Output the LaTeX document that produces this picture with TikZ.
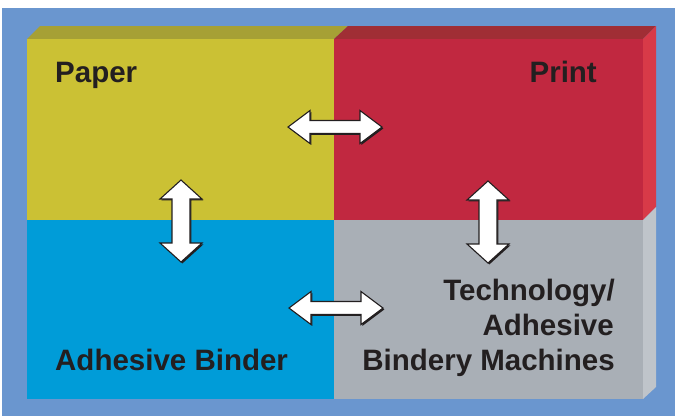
\documentclass[tikz,border=0pt]{standalone}
\usepackage{fontspec}
\setmainfont{Liberation Sans}
\definecolor{bgblue}{HTML}{6A96CF}
\definecolor{yelF}{HTML}{CBC134}
\definecolor{yelT}{HTML}{A6A035}
\definecolor{redF}{HTML}{C12840}
\definecolor{redT}{HTML}{A02E35}
\definecolor{redS}{HTML}{D83A48}
\definecolor{cyanF}{HTML}{009CD8}
\definecolor{grayF}{HTML}{A9AFB6}
\definecolor{grayS}{HTML}{BFC4CA}
\definecolor{txt}{HTML}{231F20}
\tikzset{
  lbl/.style={font=\bfseries\fontsize{29.5}{35}\selectfont, text=txt, inner sep=0pt},
  panel/.style={inner sep=0pt, outer sep=0pt, anchor=north west},
  arrowbody/.style={fill=white, draw=txt, line width=1.1pt, line join=miter},
  arrowshadow/.style={fill=txt},
  harrow/.pic={
    \fill[arrowshadow, shift={(1.4,1.4)}] (-47,0) -- (-25,-16.5) -- (-25,-6.5) -- (25,-6.5) -- (25,-16.5) -- (47,0) -- (25,16.5) -- (25,6.5) -- (-25,6.5) -- (-25,16.5) -- cycle;
    \path[arrowbody] (-47,0) -- (-25,-16.5) -- (-25,-6.5) -- (25,-6.5) -- (25,-16.5) -- (47,0) -- (25,16.5) -- (25,6.5) -- (-25,6.5) -- (-25,16.5) -- cycle;
  },
  varrow/.pic={
    \fill[arrowshadow, shift={(1.4,1.4)}] (0,-41) -- (21,-22) -- (9,-22) -- (9,22) -- (21,22) -- (0,41) -- (-21,22) -- (-9,22) -- (-9,-22) -- (-21,-22) -- cycle;
    \path[arrowbody] (0,-41) -- (21,-22) -- (9,-22) -- (9,22) -- (21,22) -- (0,41) -- (-21,22) -- (-9,22) -- (-9,-22) -- (-21,-22) -- cycle;
  }
}
\begin{document}
\begin{tikzpicture}[x=1pt,y=-1pt]
\useasboundingbox (0,0) rectangle (675,416);
% background
\fill[bgblue] (2,8) rectangle (675,416);
% bevels
\fill[yelT] (27,39) -- (40,26) -- (348,26) -- (334,39) -- cycle;
\fill[redT] (334,39) -- (348,26) -- (656,26) -- (643,39) -- cycle;
\fill[redS] (643,39) -- (656,26) -- (656,207) -- (643,220) -- cycle;
\fill[grayS] (643,220) -- (656,207) -- (656,387) -- (643,399) -- cycle;
% front panels
\node[panel, fill=yelF, minimum width=307pt, minimum height=181pt] (paperpanel) at (27,39) {};
\node[panel, fill=redF, minimum width=309pt, minimum height=181pt] (printpanel) at (334,39) {};
\node[panel, fill=cyanF, minimum width=307pt, minimum height=179pt] (binderpanel) at (27,220) {};
\node[panel, fill=grayF, minimum width=309pt, minimum height=179pt] (techpanel) at (334,220) {};
% labels
\node[lbl, anchor=base west] (paper) at (55,82) {Paper};
\node[lbl, anchor=base east] (print) at (597,82) {Print};
\node[lbl, anchor=base west] (binder) at (55,370) {Adhesive Binder};
\node[lbl, anchor=base east] (tech1) at (615,300) {Technology/};
\node[lbl, anchor=base east] (tech2) at (614,335) {Adhesive};
\node[lbl, anchor=base east] (tech3) at (615,370) {Bindery Machines};
% arrows
\pic at (335,127) {harrow};
\pic at (336,308) {harrow};
\pic at (181,221) {varrow};
\pic at (488,222) {varrow};
\end{tikzpicture}
\end{document}
